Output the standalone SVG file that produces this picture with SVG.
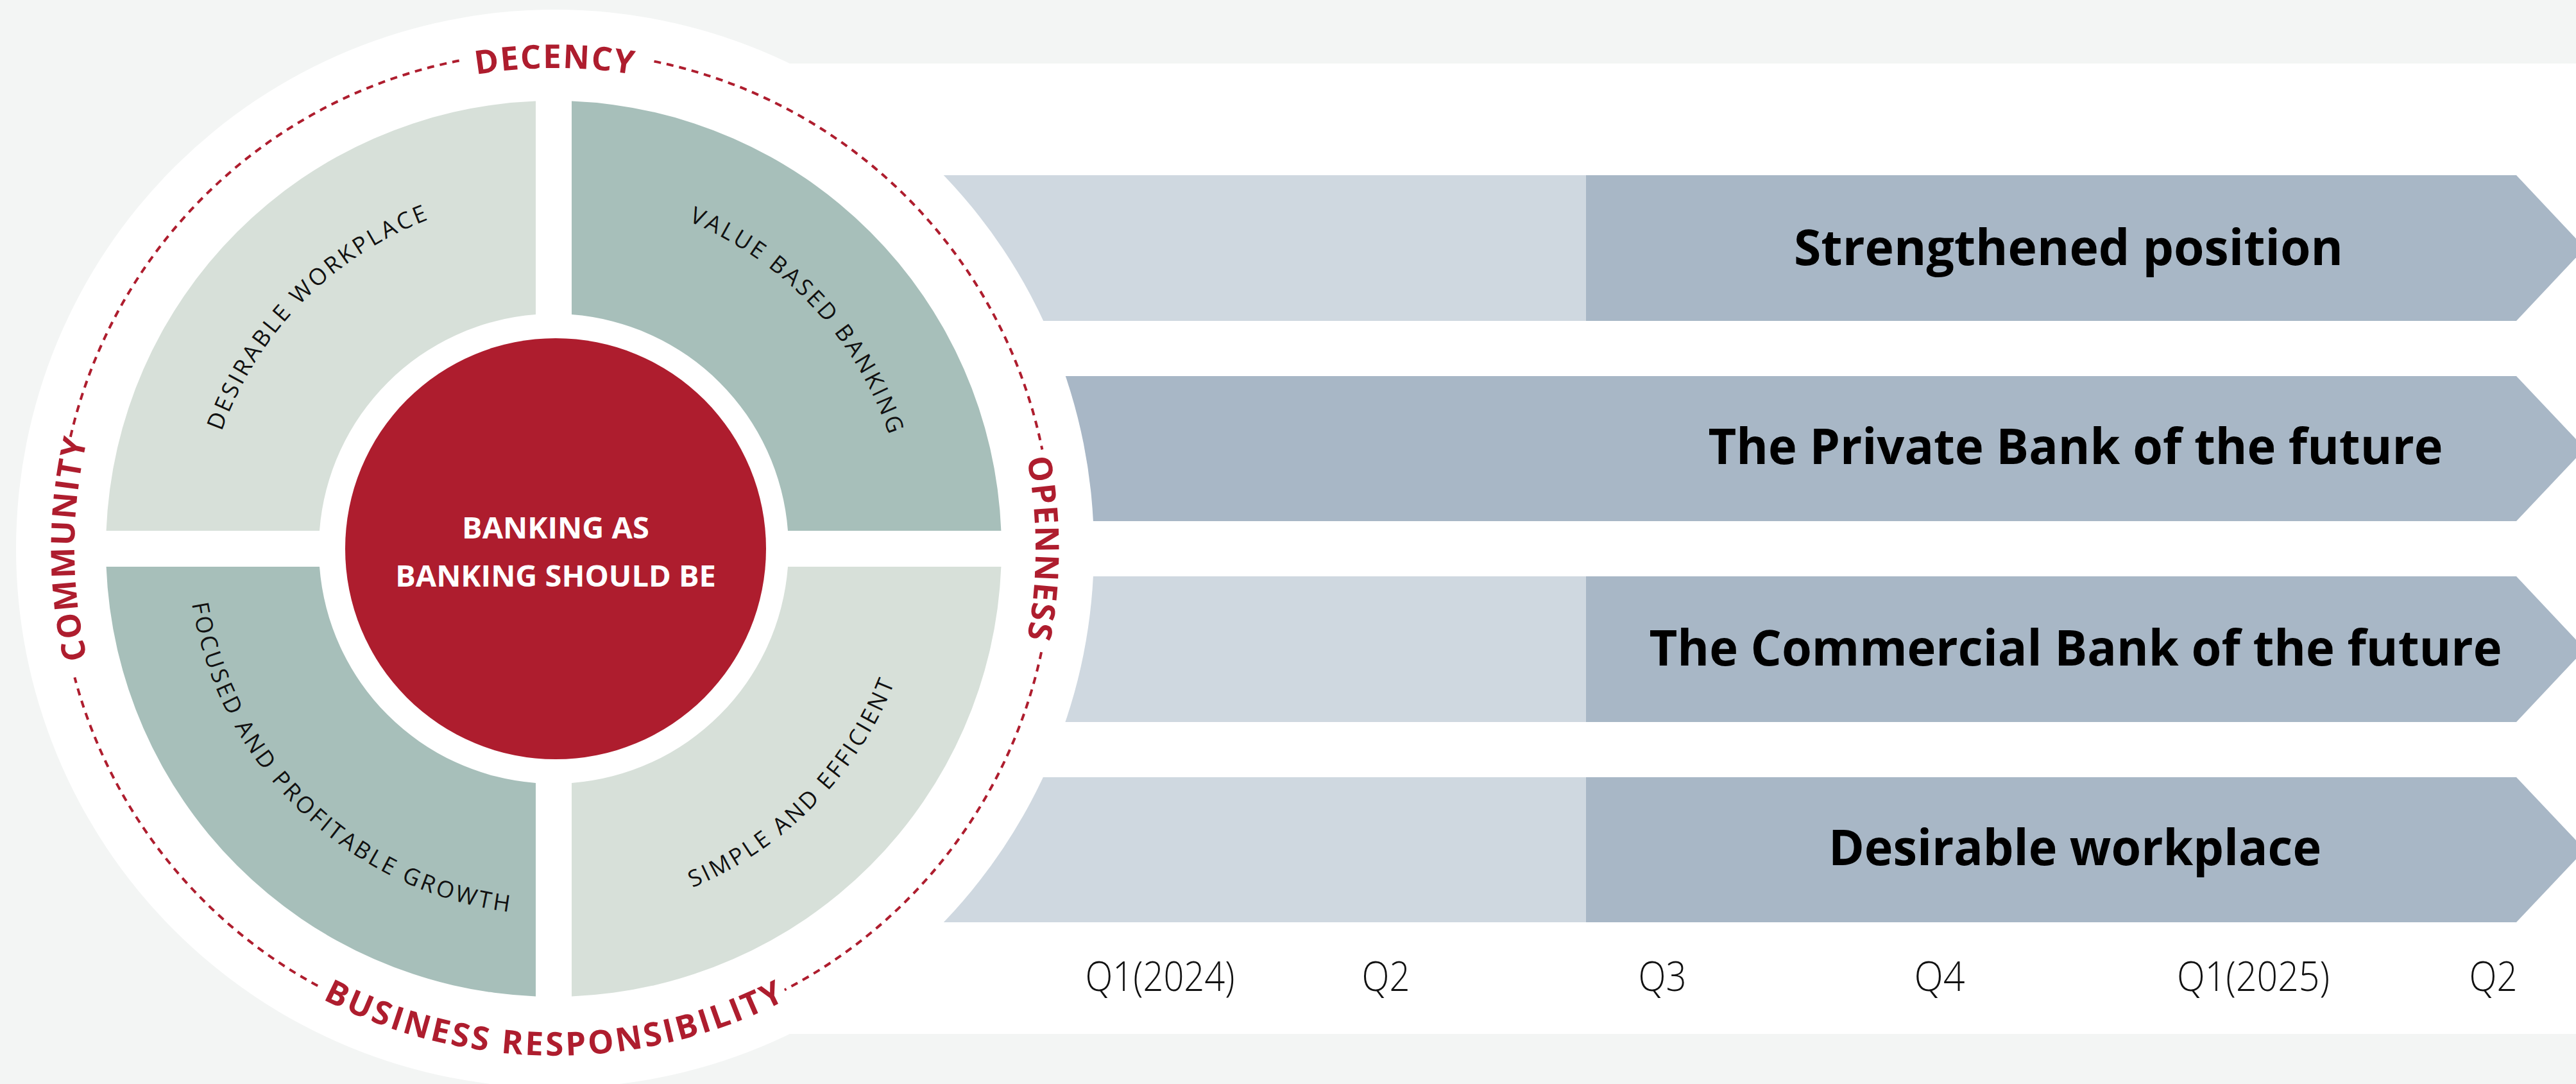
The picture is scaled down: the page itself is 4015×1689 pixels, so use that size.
<svg xmlns="http://www.w3.org/2000/svg" width="4015" height="1689" viewBox="0 0 4015 1689">
<defs>
<style>
.bg{fill:#f3f5f4}
.white{fill:#ffffff}
.al{fill:#cfd8e0}
.ad{fill:#a8b7c6}
.ql{fill:#d7e0d9}
.qd{fill:#a7bfba}
.red{fill:#ae1d2e}
.dash{fill:none;stroke:#ae1d2e;stroke-width:4;stroke-dasharray:11 9;stroke-linecap:butt}
.ring{font-family:"Open Sans","Liberation Sans",sans-serif;font-weight:700;font-size:51px;fill:#ae1d2e;letter-spacing:2px}
.ringb{letter-spacing:3.8px}
.qlab{font-family:"Open Sans","Liberation Sans",sans-serif;font-weight:400;font-size:36px;fill:#111;letter-spacing:4px}
.center{font-family:"Open Sans","Liberation Sans",sans-serif;font-weight:700;font-size:47px;fill:#ffffff}
.title{font-family:"Open Sans","Liberation Sans",sans-serif;font-weight:700;font-size:77px;fill:#000}
.q{font-family:"Open Sans","Liberation Sans",sans-serif;font-weight:300;font-size:64px;fill:#111}
</style>
<path id="p-top" d="M 116,855 A 749 749 0 0 1 1614,855"/>
<path id="p-right" d="M 865,106 A 749 749 0 0 1 865,1604"/>
<path id="p-left" d="M 865,1604 A 749 749 0 0 1 865,106"/>
<path id="p-bottom" d="M 75,855 A 790 790 0 0 0 1655,855"/>
<path id="p-dw" d="M 476.1,1248.7 A 552 552 0 0 1 1249.9,461.3"/>
<path id="p-vb" d="M 486.5,451.3 A 552 552 0 0 1 1239.5,1258.7"/>
<path id="p-fp" d="M 448.7,454.9 A 576 576 0 0 0 1277.3,1255.1"/>
<path id="p-se" d="M 460,1266.5 A 576 576 0 0 0 1266,443.5"/>
</defs>

<rect class="bg" x="0" y="0" width="4015" height="1689"/>
<rect class="white" x="900" y="99" width="3115" height="1512"/>

<g id="timeline">
  <g id="row-strengthened">
    <rect class="al" x="1300" y="273" width="1172" height="227"/>
    <polygon class="ad" points="2472,273 3922,273 4029,386.5 3922,500 2472,500"/>
  </g>
  <g id="row-private">
    <polygon class="ad" points="1300,586 3922,586 4029,699 3922,812 1300,812"/>
  </g>
  <g id="row-commercial">
    <rect class="al" x="1300" y="898" width="1172" height="227"/>
    <polygon class="ad" points="2472,898 3922,898 4029,1011.5 3922,1125 2472,1125"/>
  </g>
  <g id="row-workplace">
    <rect class="al" x="1300" y="1211" width="1172" height="226"/>
    <polygon class="ad" points="2472,1211 3922,1211 4029,1324 3922,1437 2472,1437"/>
  </g>
</g>

<g id="wheel">
  <circle class="white" cx="865" cy="855" r="840"/>
  <g id="q-desirable">
    <path class="ql" d="M 835,157.6 A 698 698 0 0 0 165.6,827 L 498,827 A 366 366 0 0 1 835,490 Z"/>
    <text class="qlab"><textPath href="#p-dw" startOffset="50%" text-anchor="middle">DESIRABLE WORKPLACE</textPath></text>
  </g>
  <g id="q-value">
    <path class="qd" d="M 891,157.6 A 698 698 0 0 1 1560.4,827 L 1228,827 A 366 366 0 0 0 891,490 Z"/>
    <text class="qlab"><textPath href="#p-vb" startOffset="50%" text-anchor="middle">VALUE BASED BANKING</textPath></text>
  </g>
  <g id="q-focused">
    <path class="qd" d="M 835,1552.4 A 698 698 0 0 1 165.6,883 L 498,883 A 366 366 0 0 0 835,1220 Z"/>
    <text class="qlab"><textPath href="#p-fp" startOffset="50%" text-anchor="middle">FOCUSED AND PROFITABLE GROWTH</textPath></text>
  </g>
  <g id="q-simple">
    <path class="ql" d="M 891,1552.4 A 698 698 0 0 0 1560.4,883 L 1228,883 A 366 366 0 0 1 891,1220 Z"/>
    <text class="qlab"><textPath href="#p-se" startOffset="50%" text-anchor="middle">SIMPLE AND EFFICIENT</textPath></text>
  </g>
  <g id="core">
    <circle class="red" cx="866" cy="855" r="328"/>
    <text class="center" x="866" y="839" text-anchor="middle">BANKING AS</text>
    <text class="center" x="866" y="914" text-anchor="middle">BANKING SHOULD BE</text>
  </g>
  <g id="values-ring">
    <path class="dash" d="M 1019.5,95.6 A 775 775 0 0 1 1624.4,700.5"/>
    <path class="dash" d="M 1623.1,1016.1 A 775 775 0 0 1 1222.9,1542.4"/>
    <path class="dash" d="M 495.2,1536.1 A 775 775 0 0 1 116.4,1055.6"/>
    <path class="dash" d="M 109.9,680.7 A 775 775 0 0 1 723.8,93"/>
    <text class="ring"><textPath href="#p-top" startOffset="50%" text-anchor="middle">DECENCY</textPath></text>
    <text class="ring"><textPath href="#p-right" startOffset="50%" text-anchor="middle">OPENNESS</textPath></text>
    <text class="ring"><textPath href="#p-left" startOffset="50%" text-anchor="middle">COMMUNITY</textPath></text>
    <text class="ring ringb"><textPath href="#p-bottom" startOffset="50%" text-anchor="middle">BUSINESS RESPONSIBILITY</textPath></text>
  </g>
</g>

<g id="titles">
  <text class="title" x="3224" y="413" text-anchor="middle" textLength="856" lengthAdjust="spacingAndGlyphs">Strengthened position</text>
  <text class="title" x="3235" y="723" text-anchor="middle" textLength="1145" lengthAdjust="spacingAndGlyphs">The Private Bank of the future</text>
  <text class="title" x="3235" y="1037" text-anchor="middle" textLength="1329" lengthAdjust="spacingAndGlyphs">The Commercial Bank of the future</text>
  <text class="title" x="3234" y="1348" text-anchor="middle" textLength="768" lengthAdjust="spacingAndGlyphs">Desirable workplace</text>
</g>

<g id="quarters">
  <text class="q" x="1808" y="1544" text-anchor="middle" textLength="233" lengthAdjust="spacingAndGlyphs">Q1(2024)</text>
  <text class="q" x="2160" y="1544" text-anchor="middle" textLength="75" lengthAdjust="spacingAndGlyphs">Q2</text>
  <text class="q" x="2591" y="1544" text-anchor="middle" textLength="75" lengthAdjust="spacingAndGlyphs">Q3</text>
  <text class="q" x="3023" y="1544" text-anchor="middle" textLength="79" lengthAdjust="spacingAndGlyphs">Q4</text>
  <text class="q" x="3512" y="1544" text-anchor="middle" textLength="238" lengthAdjust="spacingAndGlyphs">Q1(2025)</text>
  <text class="q" x="3886" y="1544" text-anchor="middle" textLength="75" lengthAdjust="spacingAndGlyphs">Q2</text>
</g>
</svg>
